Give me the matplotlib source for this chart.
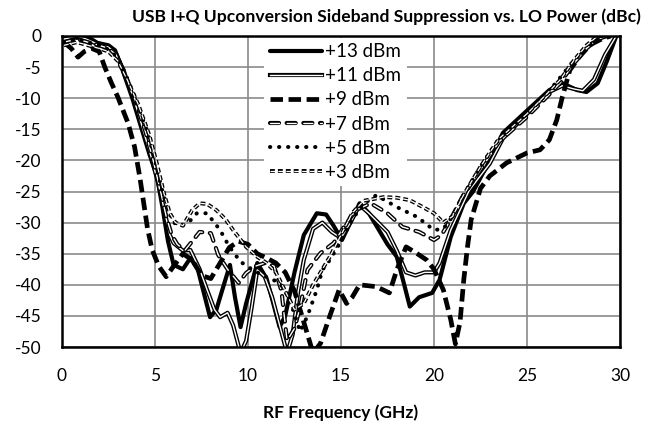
import matplotlib
matplotlib.use("Agg")
import matplotlib.pyplot as plt

plt.rcParams['font.family'] = ['Lato', 'DejaVu Sans']
plt.rcParams['axes.unicode_minus'] = False
plt.rcParams['lines.scale_dashes'] = False

# ---- data ----
f13 = [0.1, 0.8, 1.3, 1.9, 2.5, 2.85, 3.2, 3.76, 4.3, 4.7, 5.1, 5.4, 5.7, 6.0, 6.5, 6.9, 7.3, 7.6, 7.96, 8.3, 8.6,
       9.03, 9.3, 9.6, 9.9, 10.5, 11.0, 11.7, 12.0, 12.5, 13.0, 13.7, 14.2, 14.6, 15.05, 15.5, 16.0, 16.5, 17.0,
       17.5, 18.0, 18.4, 18.7, 19.2, 19.9, 20.3, 20.9, 21.6, 22.1, 23.0, 23.7, 25.0, 26.2, 26.9, 27.7, 28.2, 28.8,
       29.3, 29.8]
v13 = [0, -0.3, 0, -1.1, -1.5, -2.3, -5, -9.8, -15.1, -19, -22.5, -27.5, -33, -36.8, -37.5, -35.7, -37.5, -41,
       -45.2, -44, -41, -36.8, -42, -46.8, -43, -36.5, -39, -46.8, -45, -38, -32, -28.5, -28.7, -30.5, -32.8, -30,
       -26.9, -28.5, -31, -33.5, -35.5, -40, -43.5, -42, -41.3, -39.2, -32.3, -26.9, -25, -20, -15.6, -12, -8.7,
       -7.6, -8.7, -9, -7.6, -4, 0]

f11 = [0.1, 0.8, 1.3, 1.9, 2.5, 2.9, 3.3, 3.85, 4.4, 4.8, 5.2, 5.5, 5.8, 6.0, 6.5, 6.9, 7.4, 7.8, 8.2, 8.5, 8.9,
       9.2, 9.6, 9.9, 10.2, 10.5, 10.9, 11.3, 11.7, 12.1, 12.4, 12.7, 13.0, 13.5, 14.0, 14.5, 15.0, 15.5, 16.0,
       16.5, 17.0, 17.5, 18.0, 18.5, 19.0, 19.5, 20.0, 20.3, 20.9, 21.9, 23.0, 23.7, 25.0, 26.2, 26.9, 27.5, 28.0,
       28.6, 29.2, 29.8]
v11 = [-0.5, 0, -0.5, -1.3, -1.8, -2.8, -5.5, -10, -15.5, -19.5, -24, -28, -32, -33.3, -34.5, -34.4, -37.5, -40.8,
       -44, -45.2, -44.5, -46.5, -51, -49, -43.6, -37.6, -38.7, -42, -46.5, -51, -48, -41, -36, -31, -30, -31.5,
       -32.5, -30, -27.2, -28.5, -30, -31.5, -34.5, -38, -38.5, -38, -38, -36.5, -31.2, -24.8, -20.5, -16.5,
       -12.5, -9, -8, -8.5, -8.8, -7, -3, 0]

f9 = [0.1, 0.5, 0.86, 1.2, 1.6, 2.0, 2.3, 2.65, 3.0, 3.55, 3.9, 4.2, 4.6, 4.85, 5.2, 5.6, 6.0, 6.5, 7.0, 7.5, 8.0,
      8.5, 9.0, 9.5, 10.0, 10.5, 11.0, 11.5, 12.0, 12.5, 13.0, 13.5, 13.9, 14.4, 14.9, 15.3, 15.6, 16.0, 16.9,
      17.6, 18.0, 18.5, 19.1, 19.6, 20.0, 20.5, 20.9, 21.15, 21.4, 21.6, 21.8, 22.0, 22.5, 23.0, 23.9, 25.0, 25.7,
      26.2, 26.6, 26.9, 27.3, 27.8, 28.4, 29.0, 29.5]
v9 = [-1, -2, -3.4, -2.5, -2, -2.5, -5, -7.5, -9.8, -14, -17.8, -23, -31, -34.4, -37, -38.7, -37, -35, -36, -38.5,
      -39, -36.5, -34, -33, -33.5, -35, -35.7, -36.5, -38, -41, -46, -51, -49.4, -45, -40.8, -43, -42, -40, -40.3,
      -41.3, -37.6, -33.9, -35, -36, -37.5, -40.8, -45.6, -49.5, -46, -39.2, -33.9, -29.5, -24.5, -22.5, -20.4,
      -18.8, -18.3, -16.7, -13.5, -9.8, -5.5, -3.4, -1.4, -0.5, 0]

f7 = [0.1, 0.8, 1.4, 2.0, 2.5, 2.9, 3.3, 3.9, 4.5, 4.9, 5.3, 5.6, 5.9, 6.2, 6.6, 7.0, 7.4, 8.0, 8.4, 8.9, 9.5, 9.9,
      10.4, 10.9, 11.4, 11.8, 12.1, 12.5, 12.8, 13.2, 13.9, 14.6, 15.2, 15.8, 16.6, 17.5, 18.3, 19.2, 20.0, 20.4,
      20.8, 21.5, 22.5, 23.5, 25.0, 26.0, 26.8, 27.5, 28.2, 28.8, 29.3]
v7 = [-1, -0.5, -1, -1.5, -2, -3, -5.5, -10, -15.5, -20, -25, -29, -32, -33.5, -34.5, -33, -31.5, -31.7, -35.2,
      -37.5, -39.7, -38.1, -37, -36.5, -37, -41, -49, -47, -43.6, -37.6, -34.9, -33.3, -30.5, -28, -26.9, -28.5,
      -30.7, -31.5, -32.8, -32, -30, -26, -21.5, -17, -13, -10, -7.5, -4.5, -2, -0.5, 0]

f5 = [0.1, 0.8, 1.4, 2.0, 2.5, 3.0, 3.4, 4.0, 4.6, 5.0, 5.4, 5.7, 6.0, 6.4, 6.8, 7.25, 7.8, 8.5, 9.0, 9.6, 10.2,
      10.8, 11.2, 11.7, 12.2, 12.8, 13.2, 13.7, 14.0, 14.4, 15.0, 15.6, 16.2, 16.9, 18.0, 19.1, 20.0, 20.5, 21.0,
      21.6, 22.5, 23.5, 25.0, 26.0, 26.7, 27.5, 28.2, 28.8, 29.3]
v5 = [-1, -0.5, -1, -1.5, -2.2, -3.5, -6, -10.5, -15.5, -20, -25, -28, -30, -30.5, -30, -28.5, -28.5, -31.2,
      -33.9, -36.3, -37.5, -38.5, -39, -39.7, -42, -47.5, -45, -40.8, -37.6, -36, -33, -29.5, -27, -25.6, -27.5,
      -29.1, -31.2, -31, -29, -25.5, -21, -16.5, -12.5, -9.5, -7, -4, -2, -0.5, 0]

f3 = [0.1, 0.8, 1.4, 2.0, 2.5, 3.0, 3.5, 4.1, 4.7, 5.1, 5.5, 5.8, 6.1, 6.5, 7.0, 7.4, 7.8, 8.3, 8.8, 9.2, 9.9,
      10.5, 11.0, 11.5, 12.0, 12.5, 13.0, 13.5, 14.0, 14.4, 15.0, 15.6, 16.2, 17.3, 18.0, 18.7, 19.4, 20.0, 20.5,
      21.0, 21.6, 22.5, 23.5, 25.0, 26.0, 26.8, 27.5, 28.2, 28.8, 29.2]
v3 = [-1.5, -1, -1.5, -2, -2.5, -4, -7, -11, -16, -20.5, -25.5, -28.5, -30, -30.5, -28, -26.9, -27, -28, -29.5,
      -31.2, -33.9, -35.5, -36.5, -38, -41, -44, -43, -40, -37.5, -35.5, -32, -28.5, -26.5, -25.9, -26, -26.4,
      -27.5, -28.5, -30, -29, -25.5, -21, -16.5, -12.5, -9.5, -7, -4, -1.5, 0, 0]

labels = ['+13 dBm', '+11 dBm', '+9 dBm', '+7 dBm', '+5 dBm', '+3 dBm']
xticks = [0, 5, 10, 15, 20, 25, 30]
yticks = [0, -5, -10, -15, -20, -25, -30, -35, -40, -45, -50]

# ---- figure ----
fig = plt.figure(figsize=(6.47, 4.26), dpi=100)
ax = fig.add_axes([62/647, 1-347/426, 558/647, 311/426])

K = 'black'
W = 'white'

def draw(fx, vy, styles):
    hs = []
    for st in styles:
        h, = ax.plot(fx, vy, **st)
        hs.append(h)
    return tuple(hs)

h13 = draw(f13, v13, [dict(color=K, lw=3.0, solid_joinstyle='round', solid_capstyle='round')])
h11 = draw(f11, v11, [dict(color=K, lw=3.0, solid_joinstyle='round'),
                      dict(color=W, lw=1.0, solid_joinstyle='round')])
h9 = draw(f9, v9, [dict(color=K, lw=3.4, dashes=(9, 4), dash_capstyle='butt')])
h7 = draw(f7, v7, [dict(color=K, lw=3.0, dashes=(6.5, 5.5), dash_capstyle='round'),
                   dict(color=W, lw=1.0, dashes=(6.5, 5.5), dash_capstyle='round')])
h5 = draw(f5, v5, [dict(color=K, lw=2.9, dashes=(0.2, 6.3), dash_capstyle='round')])
h3 = draw(f3, v3, [dict(color=K, lw=2.8, dashes=(3.5, 2.2), dash_capstyle='butt'),
                   dict(color=W, lw=0.9, dashes=(3.5, 2.2), dash_capstyle='butt')])

ax.set_xlim(0, 30)
ax.set_ylim(-50, 0)
ax.set_xticks(xticks)
ax.set_yticks(yticks)
ax.set_xticklabels([str(t) for t in xticks])
ax.set_yticklabels([str(t) for t in yticks])
ax.tick_params(axis='x', length=0, labelsize=12.5, pad=15)
ax.tick_params(axis='y', length=0, labelsize=12.5, pad=15)
ax.grid(True, color='#8a8a8a', lw=1.2)
ax.set_axisbelow(True)
for s in ax.spines.values():
    s.set_linewidth(1.8)
    s.set_color('black')

ax.set_xlabel('RF Frequency (GHz)', fontsize=12.5, fontweight='bold', labelpad=15)
fig.text(386/647, 1-17/426, 'USB I+Q Upconversion Sideband Suppression vs. LO Power (dBc)',
         ha='center', va='center', fontsize=12.6, fontweight='bold')

leg = ax.legend([h13, h11, h9, h7, h5, h3], labels, loc='upper left',
                bbox_to_anchor=(0.362, 0.995), borderaxespad=0, frameon=True,
                facecolor='white', edgecolor='none', framealpha=1, fontsize=13.5,
                handlelength=2.8, handletextpad=0.15, labelspacing=0.38, borderpad=0.3)

fig.savefig('out.png', dpi=100)
